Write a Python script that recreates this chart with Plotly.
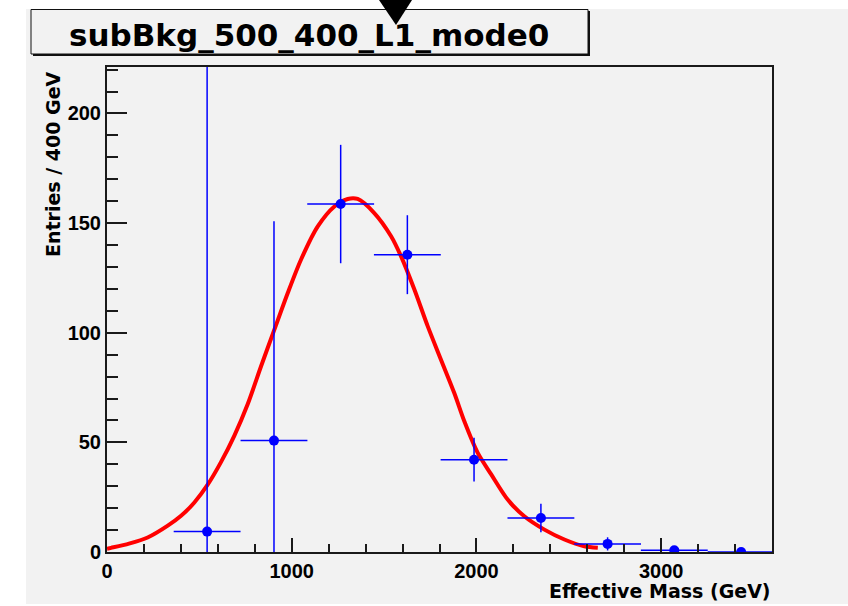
import plotly.graph_objects as go

# ---- data ----
bin_centers = [542, 904, 1265, 1626, 1987, 2349, 2710, 3071, 3433]
bin_halfwidth = [181, 181, 181, 181, 181, 181, 181, 181, 181]
entries = [9.3, 50.8, 158.7, 135.6, 42.1, 15.5, 3.7, 0.8, 0.0]
entries_err = [240, 100, 27, 18, 10, 6.5, 3, 1, 0]

fit_x = [0, 22, 119, 220, 329, 401, 473, 545, 617, 689, 762, 834, 906, 978, 1050,
         1141, 1231, 1303, 1357, 1447, 1538, 1592, 1664, 1736, 1808, 1880,
         1935, 2007, 2079, 2169, 2259, 2368, 2476, 2584, 2657]
fit_y = [1.5, 1.9, 3.8, 6.6, 12.0, 16.5, 22.6, 30.7, 41.0, 53.0, 67.5, 84.7, 101.4,
         118.0, 133.3, 148.5, 157.6, 161.0, 161.0, 154.6, 144.0, 134.8, 119.7,
         103.0, 87.7, 72.5, 59.5, 45.2, 35.5, 23.9, 16.3, 10.2, 5.7, 2.6, 1.9]

title_text = "subBkg_500_400_L1_mode0"
x_title = "Effective Mass (GeV)"
y_title = "Entries / 400 GeV"
x_range = [0, 3600]
y_range = [0, 221.2]

# ---- layout geometry (pixels) ----
W, H = 848, 606
L, R, T, B = 107, 772, 67, 552
PW, PH = R - L, B - T


def px(x):
    return (x - L) / PW


def py(y):
    return (B - y) / PH


FONT = "DejaVu Sans"
TFONT = "Liberation Sans, Arial, sans-serif"
BG = "#f2f2f2"

fig = go.Figure()

fig.add_trace(go.Scatter(
    x=fit_x, y=fit_y, mode="lines", line=dict(color="#ff0000", width=4, shape="spline", smoothing=0.8),
    hoverinfo="skip", showlegend=False))

fig.add_trace(go.Scatter(
    x=bin_centers, y=entries, mode="markers",
    marker=dict(color="#0000ff", size=10, symbol="circle"),
    error_x=dict(type="data", array=bin_halfwidth, color="#0000ff", thickness=1.5, width=0),
    error_y=dict(type="data", array=entries_err, color="#0000ff", thickness=1.5, width=0),
    showlegend=False))

axis_common = dict(
    showline=True, linecolor="#1a1a1a", linewidth=2, mirror=True,
    showgrid=False, zeroline=False, ticks="inside", tickcolor="#1a1a1a", tickwidth=1.5,
    tickfont=dict(family=TFONT, size=20, color="black", weight="bold"),
)

fig.update_xaxes(range=x_range, dtick=1000, tick0=0, ticklen=14,
                 minor=dict(dtick=200, tick0=0, ticklen=8, ticks="inside", tickcolor="#1a1a1a", tickwidth=1.5),
                 **axis_common)
fig.update_yaxes(range=y_range, dtick=50, tick0=0, ticklen=20,
                 minor=dict(dtick=10, tick0=0, ticklen=11, ticks="inside", tickcolor="#1a1a1a", tickwidth=1.5),
                 **axis_common)

shapes = [
    # gray canvas
    dict(type="rect", xref="paper", yref="paper", layer="below",
         x0=px(26), x1=px(848), y0=py(604), y1=py(9), fillcolor=BG, line=dict(width=0)),
    # title box shadow
    dict(type="rect", xref="paper", yref="paper", layer="above",
         x0=px(33), x1=px(590), y0=py(56), y1=py(11), fillcolor="#111111", line=dict(width=0)),
    # title box
    dict(type="rect", xref="paper", yref="paper", layer="above",
         x0=px(31), x1=px(588), y0=py(54), y1=py(9.5), fillcolor=BG, line=dict(color="#111111", width=1)),
    # cursor triangle
    dict(type="path", xref="paper", yref="paper", layer="above",
         path=f"M {px(379)} {py(0)} L {px(412)} {py(0)} L {px(396)} {py(25)} Z",
         fillcolor="black", line=dict(width=0)),
]

annotations = [
    dict(text=title_text, xref="paper", yref="paper", x=px(309), y=py(35),
         xanchor="center", yanchor="middle", showarrow=False,
         font=dict(family=FONT, size=31, color="black", weight="bold")),
    dict(text=x_title, xref="paper", yref="paper", x=px(773), y=py(591),
         xanchor="right", yanchor="middle", showarrow=False,
         font=dict(family=FONT, size=19, color="black", weight="bold")),
    dict(text=y_title, xref="paper", yref="paper", x=px(53), y=py(69),
         xanchor="center", yanchor="top", textangle=-90, showarrow=False,
         font=dict(family=FONT, size=19, color="black", weight="bold")),
]

fig.update_layout(
    width=W, height=H, autosize=False,
    margin=dict(l=L, r=W - R, t=T, b=H - B, pad=0),
    paper_bgcolor="white", plot_bgcolor=BG,
    shapes=shapes, annotations=annotations, showlegend=False,
)

fig.write_html("out.html")
